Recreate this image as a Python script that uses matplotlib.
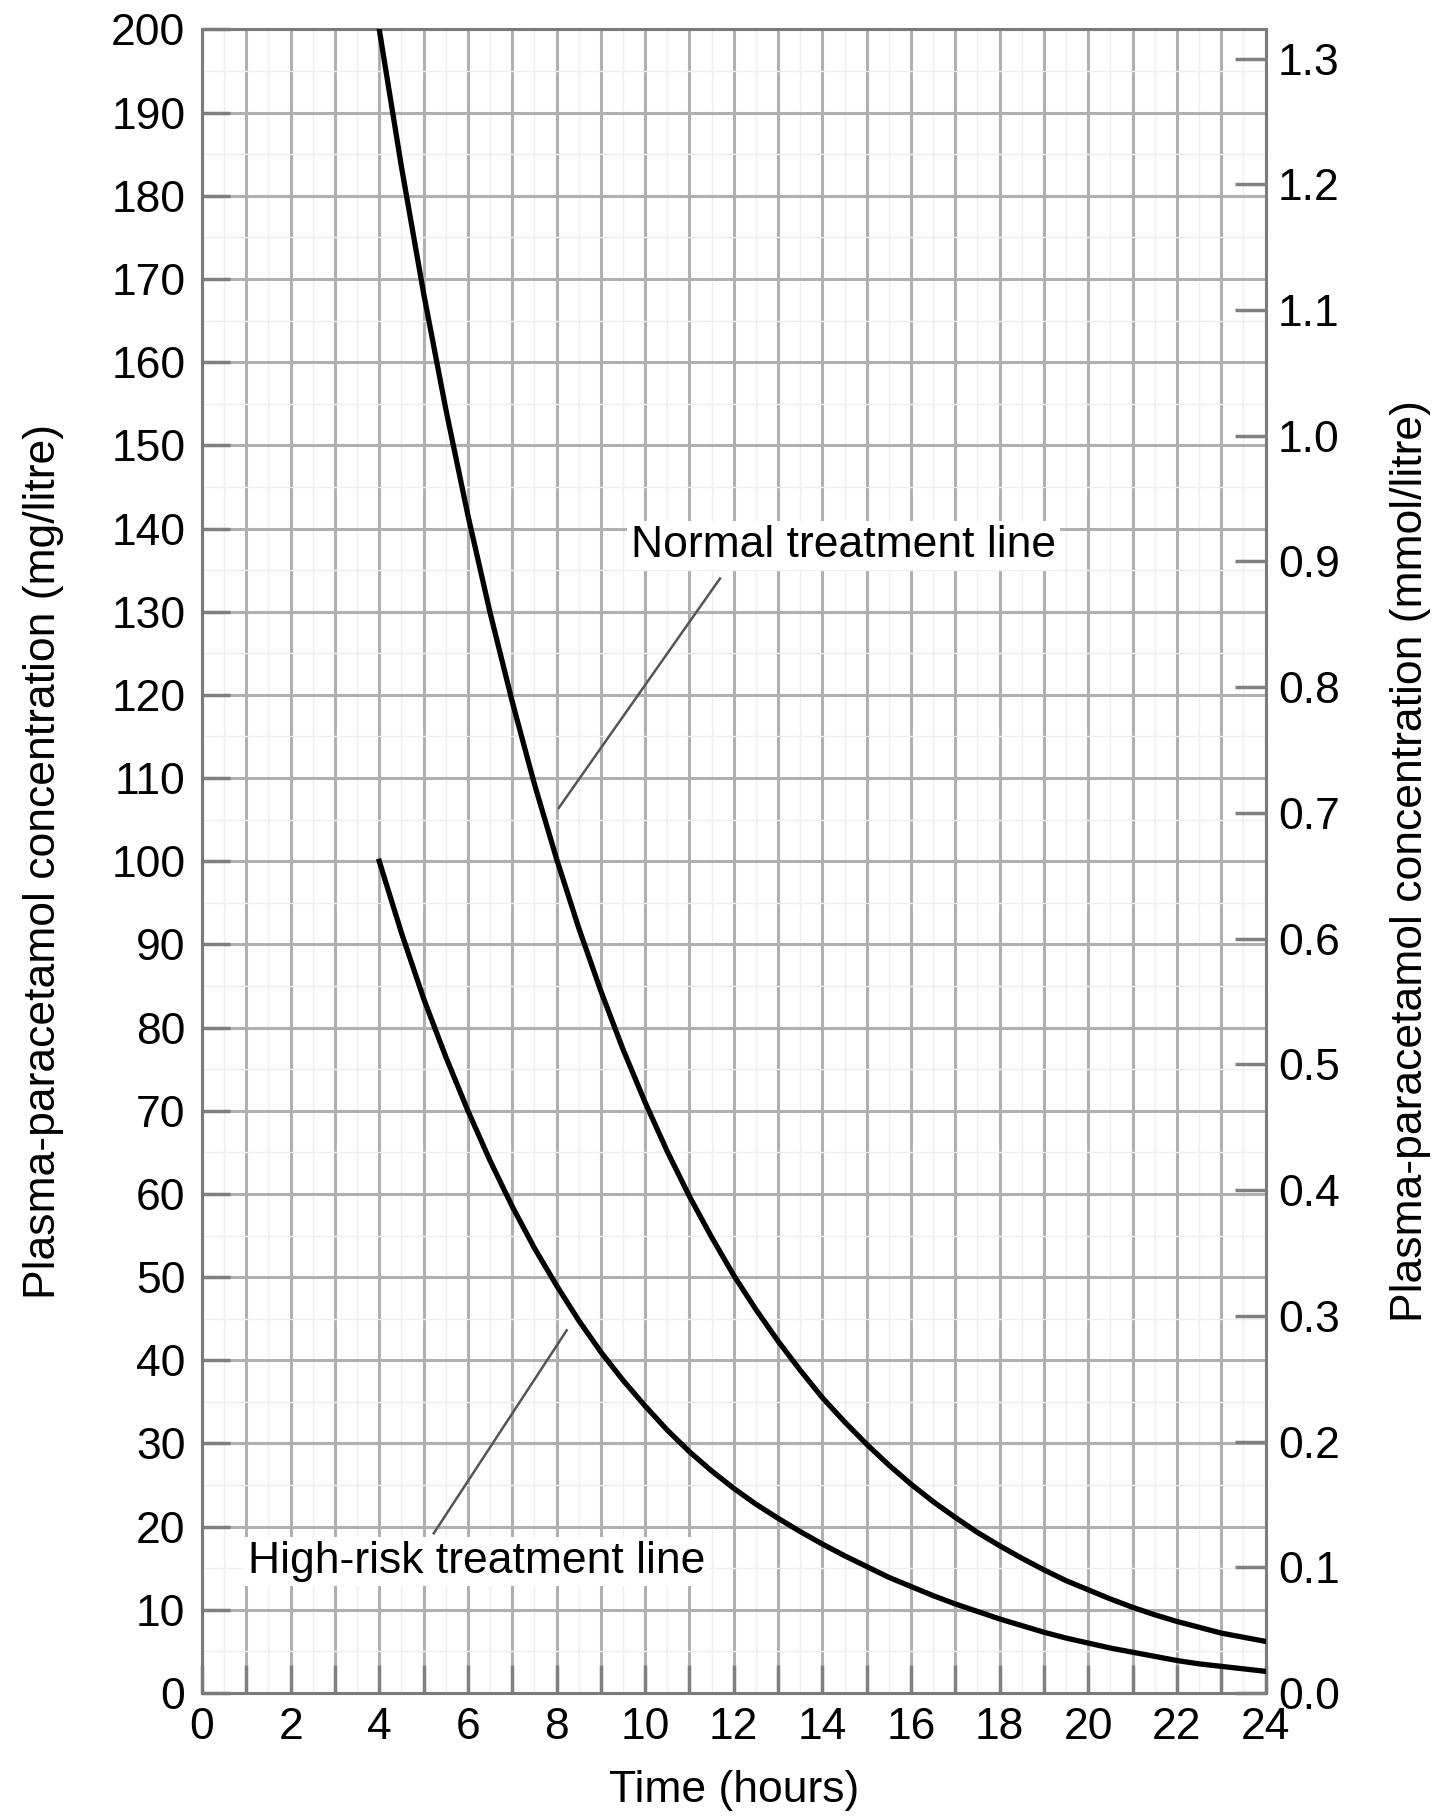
import matplotlib
matplotlib.use("Agg")
import matplotlib.pyplot as plt
import numpy as np

plt.rcParams['font.family'] = ['Liberation Sans', 'DejaVu Sans']

# values (mg/litre) every half hour from 4 h to 24 h
hours = [4, 4.5, 5, 5.5, 6, 6.5, 7, 7.5, 8, 8.5, 9, 9.5, 10, 10.5, 11, 11.5, 12,
         12.5, 13, 13.5, 14, 14.5, 15, 15.5, 16, 16.5, 17, 17.5, 18, 18.5, 19,
         19.5, 20, 20.5, 21, 21.5, 22, 22.5, 23, 23.5, 24]
normal_line = [200, 183.5, 168.3, 154.4, 141.6, 129.9, 119.2, 109.3, 100.3, 92,
               84.4, 77.4, 71, 65.1, 59.7, 54.8, 50.2, 46.1, 42.3, 38.8, 35.5,
               32.6, 29.9, 27.4, 25.1, 23, 21.1, 19.3, 17.7, 16.2, 14.8, 13.5,
               12.4, 11.3, 10.3, 9.4, 8.6, 7.9, 7.2, 6.7, 6.2]
high_risk_line = [100, 91.4, 83.5, 76.5, 70, 64, 58.5, 53.5, 49, 44.8, 41, 37.6,
                  34.5, 31.6, 29, 26.7, 24.6, 22.7, 21, 19.4, 17.9, 16.5, 15.2,
                  13.9, 12.8, 11.7, 10.7, 9.8, 8.9, 8.1, 7.3, 6.6, 6.0, 5.4, 4.9,
                  4.4, 3.9, 3.5, 3.2, 2.9, 2.6]

y_ticks = list(range(0, 201, 10))
mmol_ticks = [0.0, 0.1, 0.2, 0.3, 0.4, 0.5, 0.6, 0.7, 0.8, 0.9, 1.0, 1.1, 1.2, 1.3]
mg_per_mmol = 151.16

grid_col = '#b0b0b0'
spine_col = '#7a7a7a'
fs = 32

fig = plt.figure(figsize=(14.43, 18.2), dpi=100)
ax = fig.add_axes([0.140, 0.0698, 0.737, 0.914])

# grid
ax.set_xticks(np.arange(0, 25, 1))
ax.set_xticks(np.arange(0.5, 24, 1), minor=True)
ax.set_yticks(y_ticks)
ax.set_yticks(np.arange(5, 200, 10), minor=True)
ax.grid(True, which='major', color=grid_col, lw=2.2, zorder=0)
ax.grid(True, which='minor', color='#eeeeee', lw=1.0, zorder=0)

ax.plot(hours, normal_line, color='black', lw=3.8, zorder=3)
ax.plot(hours, high_risk_line, color='black', lw=3.8, zorder=3)

ax.set_xlim(0, 24)
ax.set_ylim(0, 200)

ax.set_xticklabels([str(h) if h % 2 == 0 else '' for h in range(0, 25)], fontsize=fs)
ax.set_yticklabels([str(v) for v in y_ticks], fontsize=fs)
ax.tick_params(axis='both', which='major', direction='in', length=20, width=2.5,
               color='#808080')
ax.tick_params(axis='x', pad=10)
ax.tick_params(axis='y', pad=12)
ax.tick_params(which='minor', length=0)

for s in ax.spines.values():
    s.set_color(spine_col)
    s.set_linewidth(2.2)

ax.set_xlabel('Time (hours)', fontsize=fs, labelpad=16)
ax.set_ylabel('Plasma-paracetamol concentration (mg/litre)', fontsize=fs, labelpad=34)

# right axis in mmol/litre
ax2 = ax.twinx()
ax2.set_ylim(0, 200 / mg_per_mmol)
ax2.set_yticks(mmol_ticks)
ax2.set_yticklabels(['%.1f' % v for v in mmol_ticks], fontsize=fs)
ax2.tick_params(axis='y', direction='in', length=22, width=2.5, color='#808080', pad=9)
for s in ax2.spines.values():
    s.set_visible(False)
ax2.set_ylabel('Plasma-paracetamol concentration (mmol/litre)', fontsize=fs,
               labelpad=36)

# labels with leader lines
ax.text(14.47, 138, 'Normal treatment line', fontsize=fs, ha='center', va='center',
        zorder=4, bbox=dict(facecolor='white', edgecolor='none', pad=3))
ax.plot([11.69, 8.05], [134, 106.4], color='#555555', lw=1.8, zorder=4)

ax.text(6.2, 15.8, 'High-risk treatment line', fontsize=fs, ha='center', va='center',
        zorder=4, bbox=dict(facecolor='white', edgecolor='none', pad=3))
ax.plot([5.23, 8.23], [19.2, 43.6], color='#555555', lw=1.8, zorder=4)

fig.savefig('out.png', dpi=100)
